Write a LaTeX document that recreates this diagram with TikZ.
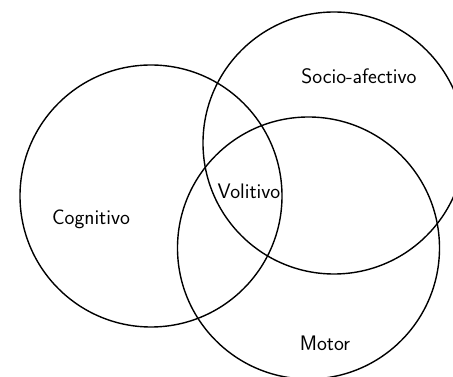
\documentclass[tikz,border=0pt]{standalone}
\usepackage{tikz}

\begin{document}
\begin{tikzpicture}[x=1pt,y=1pt]
\tikzset{ring/.style = {shape=circle,draw,line width=1.4pt,minimum size=262pt,inner sep=0pt}}
\tikzset{word/.style = {font=\sffamily\fontsize{21}{24}\selectfont,inner sep=0pt}}
\useasboundingbox (0,0) rectangle (453,377);
% circles
\node[ring] (cog) at (151,181) {};
\node[ring] (soc) at (334,234) {};
\node[ring] (mot) at (308.5,129) {};

% texts
\node[word] (tcog) at (91,158) {Cognitivo};
\node[word] (tsoc) at (359,301) {Socio-afectivo};
\node[word] (tvol) at (249,186) {Volitivo};
\node[word] (tmot) at (325,34) {Motor};
\end{tikzpicture}
\end{document}
